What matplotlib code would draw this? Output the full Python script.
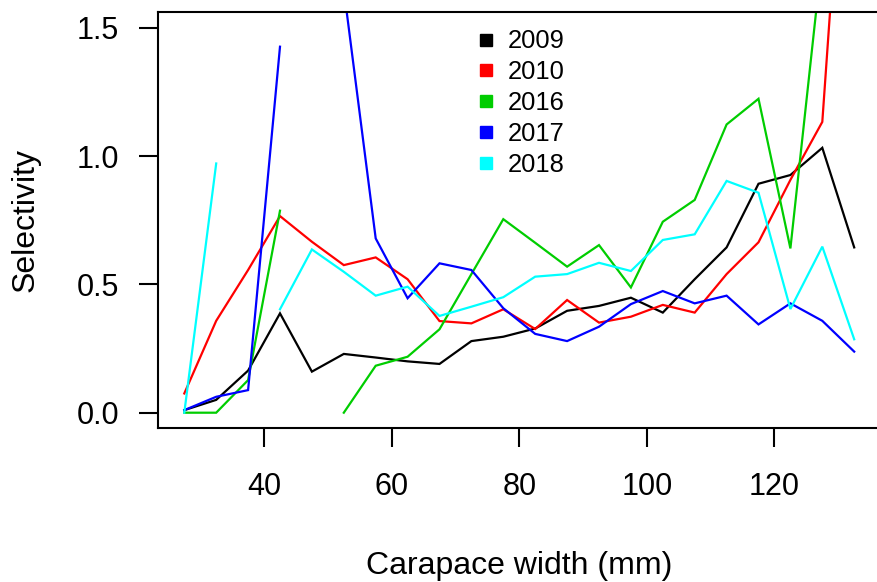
import numpy as np
import matplotlib
matplotlib.use("Agg")
import matplotlib.pyplot as plt
from matplotlib.lines import Line2D

nan = np.nan
width_mm = [27.5, 32.5, 37.5, 42.5, 47.5, 52.5, 57.5, 62.5, 67.5, 72.5, 77.5,
            82.5, 87.5, 92.5, 97.5, 102.5, 107.5, 112.5, 117.5, 122.5, 127.5, 132.5]

sel_2009 = [0.01, 0.05, 0.164, 0.387, 0.16, 0.229, 0.215, 0.20, 0.19, 0.279, 0.296,
            0.328, 0.397, 0.416, 0.448, 0.39, 0.52, 0.644, 0.892, 0.926, 1.032, 0.644]
sel_2010 = [0.075, 0.358, 0.556, 0.766, 0.666, 0.575, 0.605, 0.52, 0.357, 0.348, 0.403,
            0.326, 0.439, 0.351, 0.374, 0.42, 0.39, 0.54, 0.664, 0.907, 1.133, 2.9]
sel_2016 = [0.0, 0.0, 0.127, 0.787, nan, 0.0, 0.183, 0.218, 0.325, 0.54, 0.754,
            0.662, 0.569, 0.653, 0.488, 0.744, 0.829, 1.123, 1.223, 0.64, 1.785, nan]
sel_2017 = [0.01, 0.062, 0.088, 1.426, nan, 1.65, 0.679, 0.446, 0.582, 0.556, 0.407,
            0.307, 0.279, 0.335, 0.423, 0.474, 0.426, 0.456, 0.344, 0.426, 0.358, 0.238]
sel_2018 = [0.0, 0.971, nan, 0.403, 0.636, 0.549, 0.456, 0.491, 0.377, 0.413, 0.45,
            0.53, 0.54, 0.584, 0.552, 0.673, 0.695, 0.903, 0.857, 0.404, 0.647, 0.286]

years = ["2009", "2010", "2016", "2017", "2018"]
colors = ["#000000", "#FF0000", "#00CD00", "#0000FF", "#00FFFF"]
series = [sel_2009, sel_2010, sel_2016, sel_2017, sel_2018]

x_ticks = [40, 60, 80, 100, 120]
y_ticks = [0.0, 0.5, 1.0, 1.5]
y_ticklabels = ["0.0", "0.5", "1.0", "1.5"]

plt.rcParams['font.family'] = ['Liberation Sans', 'DejaVu Sans']

W, H = 877, 582
fig = plt.figure(figsize=(W / 100, H / 100), dpi=100)
ax_left, ax_right, ax_top, ax_bottom = 157.5, 881.0, 12.3, 428.1
ax = fig.add_axes([ax_left / W, 1 - ax_bottom / H,
                   (ax_right - ax_left) / W, (ax_bottom - ax_top) / H])

for vals, c in zip(series, colors):
    ax.plot(width_mm, np.array(vals, dtype=float), color=c, lw=1.6,
            solid_joinstyle='miter')

ax.set_xlim(23.3, 136.7)
ax.set_ylim(-0.06, 1.56)
ax.set_xticks(x_ticks)
ax.set_xticklabels([str(t) for t in x_ticks])
ax.set_yticks(y_ticks)
ax.set_yticklabels(y_ticklabels)

ax.tick_params(axis='both', direction='out', length=13.7, width=1.5,
               labelsize=22, color='black')
ax.tick_params(axis='x', pad=18)
ax.tick_params(axis='y', pad=14)
for s in ax.spines.values():
    s.set_linewidth(1.5)

ax.set_xlabel("Carapace width (mm)", fontsize=23, labelpad=35)
ax.set_ylabel("Selectivity", fontsize=23, labelpad=26)

handles = [Line2D([], [], marker='s', linestyle='none', color=c, markersize=8.4)
           for c in colors]
leg = ax.legend(handles, years, loc='upper left',
                bbox_to_anchor=(473 / W, 1 - 29.5 / H), bbox_transform=fig.transFigure,
                frameon=False, fontsize=18.4, borderpad=0, borderaxespad=0,
                handlelength=1.0, handletextpad=0.35, labelspacing=0.27)

fig.savefig("out.png", dpi=100)
